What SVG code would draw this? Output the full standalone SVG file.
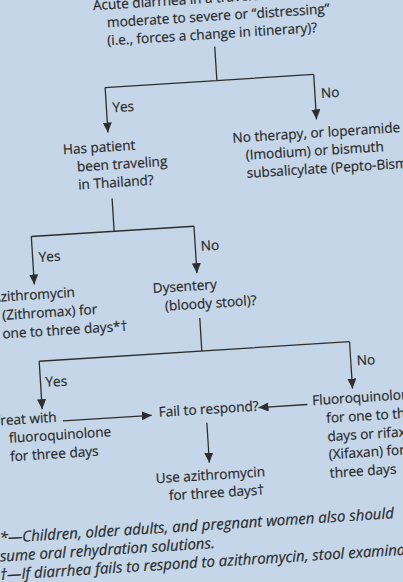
<svg xmlns="http://www.w3.org/2000/svg" width="403" height="582" viewBox="0 0 403 582">
  <style>
    .t { font-family: "Open Sans", "Noto Sans", "Liberation Sans", sans-serif; font-size: 13.6px; fill: #2a2a2a; stroke: #2a2a2a; stroke-width: 0.2; }
    .fn { font-family: "Open Sans", "Noto Sans", "Liberation Sans", sans-serif; font-size: 15px; font-style: italic; fill: #2a2a2a; stroke: #2a2a2a; stroke-width: 0.2; }
    .ln { fill: none; stroke: #2e2e2e; stroke-width: 1.3; }
    .ar { fill: none; stroke: #2e2e2e; stroke-width: 1.3; marker-end: url(#ah); }
  </style>
  <defs>
    <marker id="ah" markerUnits="userSpaceOnUse" markerWidth="11" markerHeight="9" refX="10" refY="4.5" orient="auto">
      <path d="M0,0 L10,4.5 L0,9 Z" fill="#2e2e2e"/>
    </marker>
  </defs>
  <rect width="403" height="582" fill="#c4d6e8"/>
  <g transform="rotate(-3.6 200 290)">
    <g id="connectors">
      <path class="ln" d="M230,48 V82 M118,82 H327"/>
      <path class="ar" d="M118,82 V127"/>
      <path class="ar" d="M327,82 V127"/>
      <path class="ln" d="M118,193 V226 M35,226 H198"/>
      <path class="ar" d="M35,226 V274"/>
      <path class="ar" d="M198,226 V273"/>
      <path class="ln" d="M198,318 V351 M35,351 H346"/>
      <path class="ar" d="M35,351 V399"/>
      <path class="ar" d="M346,351 V398"/>
      <path class="ar" d="M55,412 H144"/>
      <path class="ar" d="M300,411 H251"/>
      <path class="ar" d="M198.5,423 V463"/>
      <text class="t" x="124" y="107">Yes</text>
      <text class="t" x="333" y="106">No</text>
      <text class="t" x="41" y="252">Yes</text>
      <text class="t" x="203.5" y="251">No</text>
      <text class="t" x="40" y="377">Yes</text>
      <text class="t" x="352" y="375">No</text>
    </g>
    <g id="n-start">
      <text class="t" x="111" y="4">Acute diarrhea in a traveler</text>
      <text class="t" x="124" y="22">moderate to severe or “distressing”</text>
      <text class="t" x="123" y="40">(i.e., forces a change in itinerary)?</text>
    </g>
    <g id="n-thailand">
      <text class="t" x="72" y="146">Has patient</text>
      <text class="t" x="85" y="164">been traveling</text>
      <text class="t" x="85" y="182">in Thailand?</text>
    </g>
    <g id="n-notherapy">
      <text class="t" x="242" y="145">No therapy, or loperamide</text>
      <text class="t" x="254" y="163">(Imodium) or bismuth</text>
      <text class="t" x="254" y="181">subsalicylate (Pepto-Bismol)</text>
    </g>
    <g id="n-azithro1">
      <text class="t" x="-8" y="289">Azithromycin</text>
      <text class="t" x="1" y="307.5">(Zithromax) for</text>
      <text class="t" x="0" y="326">one to three days*†</text>
    </g>
    <g id="n-dysentery">
      <text class="t" x="153" y="290">Dysentery</text>
      <text class="t" x="164" y="308.5">(bloody stool)?</text>
    </g>
    <g id="n-treat">
      <text class="t" x="-15" y="412.5">Treat with</text>
      <text class="t" x="0" y="430.5">fluoroquinolone</text>
      <text class="t" x="0" y="449">for three days</text>
    </g>
    <g id="n-fail">
      <text class="t" x="151" y="414">Fail to respond?</text>
    </g>
    <g id="n-fluoro">
      <text class="t" x="305" y="412">Fluoroquinolone</text>
      <text class="t" x="318" y="430.5">for one to three</text>
      <text class="t" x="318" y="449">days or rifaximin</text>
      <text class="t" x="318" y="467">(Xifaxan) for</text>
      <text class="t" x="318" y="485.5">three days</text>
    </g>
    <g id="n-azithro2">
      <text class="t" x="144" y="480">Use azithromycin</text>
      <text class="t" x="156" y="498">for three days†</text>
    </g>
    <g id="footnotes">
      <text class="fn" x="-15.5" y="530">*—Children, older adults, and pregnant women also should</text>
      <text class="fn" x="-16.5" y="548.5">sume oral rehydration solutions.</text>
      <text class="fn" x="-17.5" y="567">†—If diarrhea fails to respond to azithromycin, stool examination</text>
    </g>
  </g>
</svg>
